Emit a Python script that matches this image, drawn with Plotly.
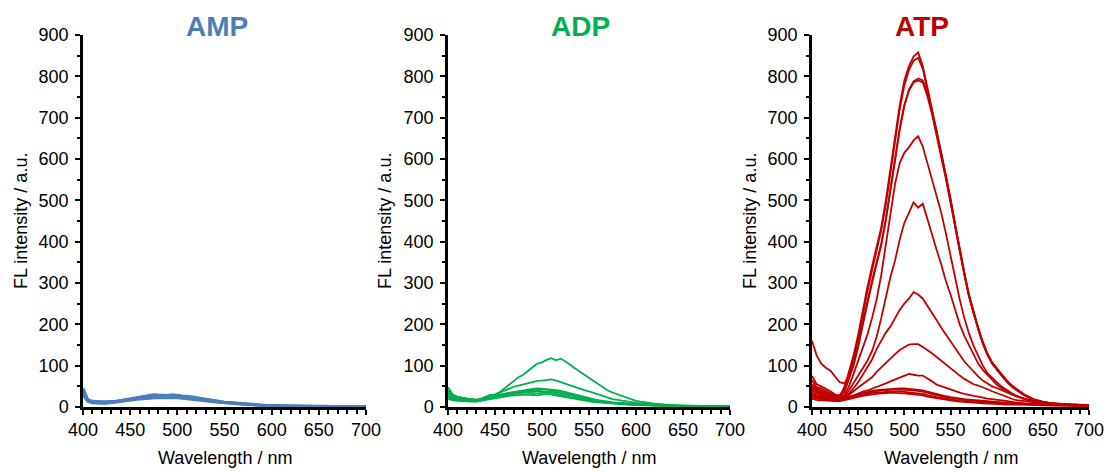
import plotly.graph_objects as go

# Wavelength grid (nm)
wavelength = [400, 405, 410, 415, 420, 425, 430, 435, 440, 445,
              450, 455, 460, 465, 470, 475, 480, 485, 490, 495,
              500, 505, 510, 515, 520, 525, 530, 535, 540, 545,
              550, 555, 560, 565, 570, 575, 580, 585, 590, 595,
              600, 605, 610, 615, 620,
              630, 640, 650, 660, 670, 680, 690, 700]

# ---------------- AMP spectra ----------------
amp_1 = [45, 18, 14, 13, 13, 13, 13, 14, 16, 18,
         20, 22, 24, 26, 28, 30, 29, 28, 28, 30,
         28, 27, 26, 25, 23, 21, 19, 17, 15, 13,
         12, 11, 10, 9, 8, 7, 6, 5, 5, 4,
         4, 3, 3, 3, 2,
         2, 2, 2, 1, 1, 1, 1, 1]
amp_2 = [38, 16, 12, 11, 11, 11, 12, 13, 15, 17,
         19, 21, 23, 24, 26, 27, 27, 26, 26, 27,
         26, 25, 24, 23, 21, 19, 17, 15, 14, 12,
         11, 10, 9, 8, 7, 6, 5, 5, 4, 4,
         3, 3, 3, 2, 2,
         2, 2, 1, 1, 1, 1, 1, 1]
amp_3 = [30, 14, 10, 9, 9, 9, 10, 11, 13, 15,
         17, 18, 19, 20, 22, 23, 23, 22, 22, 23,
         22, 21, 20, 19, 18, 16, 15, 13, 12, 10,
         9, 8, 7, 6, 6, 5, 5, 4, 4, 3,
         3, 3, 2, 2, 2,
         2, 1, 1, 1, 1, 1, 1, 1]
amp_4 = [42, 17, 13, 12, 12, 12, 12, 13, 15, 17,
         19, 21, 22, 24, 26, 28, 28, 27, 27, 28,
         27, 26, 25, 24, 22, 20, 18, 16, 14, 13,
         11, 10, 9, 8, 7, 6, 6, 5, 4, 4,
         3, 3, 3, 2, 2,
         2, 2, 1, 1, 1, 1, 1, 1]

# ---------------- ADP spectra ----------------
adp_1 = [35, 25, 22, 20, 19, 18, 17, 18, 22, 26,
         30, 36, 45, 55, 65, 72, 78, 86, 96, 105,
         108, 114, 118, 113, 117, 110, 101, 94, 86, 78,
         70, 62, 55, 47, 40, 35, 31, 27, 23, 19,
         15, 13, 11, 10, 8,
         6, 4, 3, 3, 2, 2, 2, 2]
adp_2 = [40, 28, 24, 22, 20, 18, 17, 18, 21, 25,
         30, 35, 40, 45, 49, 52, 55, 58, 61, 63,
         64, 66, 67, 64, 60, 56, 52, 48, 44, 41,
         38, 34, 30, 26, 22, 19, 17, 15, 13, 11,
         10, 9, 8, 7, 6,
         5, 4, 3, 3, 2, 2, 2, 2]
adp_3 = [48, 30, 25, 22, 20, 19, 18, 20, 26, 30,
         28, 30, 33, 35, 37, 39, 41, 43, 44, 45,
         44, 44, 43, 41, 39, 36, 33, 30, 27, 24,
         21, 18, 16, 14, 12, 11, 10, 9, 8, 7,
         7, 6, 6, 5, 5,
         4, 3, 3, 2, 2, 2, 2, 2]
adp_4 = [35, 24, 21, 19, 18, 17, 16, 18, 21, 24,
         27, 30, 32, 34, 36, 38, 39, 40, 41, 41,
         42, 42, 41, 39, 37, 34, 31, 28, 25, 22,
         20, 18, 16, 14, 12, 11, 10, 9, 8, 7,
         6, 6, 5, 5, 4,
         4, 3, 3, 2, 2, 2, 2, 2]
adp_5 = [30, 22, 19, 17, 16, 15, 15, 17, 20, 23,
         26, 28, 30, 32, 34, 35, 37, 38, 39, 39,
         38, 38, 37, 36, 34, 31, 28, 25, 23, 20,
         18, 16, 14, 12, 11, 10, 9, 8, 7, 6,
         6, 5, 5, 4, 4,
         3, 3, 2, 2, 2, 2, 2, 2]
adp_6 = [25, 19, 17, 16, 15, 14, 14, 16, 19, 22,
         24, 26, 28, 30, 31, 33, 34, 35, 34, 33,
         34, 35, 34, 32, 30, 27, 24, 22, 20, 18,
         16, 14, 12, 11, 10, 9, 8, 7, 6, 6,
         5, 5, 4, 4, 4,
         3, 3, 2, 2, 2, 2, 2, 1]
adp_7 = [20, 16, 15, 14, 14, 13, 13, 15, 18, 20,
         22, 24, 26, 27, 28, 29, 30, 30, 29, 28,
         30, 31, 30, 28, 26, 23, 21, 19, 17, 15,
         13, 12, 11, 10, 9, 8, 7, 6, 6, 5,
         5, 4, 4, 4, 3,
         3, 2, 2, 2, 2, 1, 1, 1]

# ---------------- ATP spectra ----------------
atp_1 = [45, 35, 30, 27, 24, 22, 25, 48, 85, 125,
         175, 235, 290, 340, 385, 435, 500, 575, 655, 730,
         790, 825, 848, 858, 825, 770, 720, 668, 615, 560,
         505, 440, 380, 322, 270, 228, 190, 155, 128, 108,
         93, 79, 66, 54, 45,
         29, 18, 12, 9, 7, 6, 5, 5]
atp_2 = [75, 55, 50, 45, 38, 30, 28, 42, 78, 115,
         165, 225, 280, 330, 378, 428, 490, 565, 645, 720,
         778, 815, 838, 845, 818, 768, 718, 665, 612, 556,
         500, 437, 378, 320, 268, 226, 188, 153, 126, 105,
         90, 76, 63, 52, 43,
         28, 17, 12, 9, 7, 6, 5, 5]
atp_3 = [160, 125, 105, 95, 88, 75, 60, 57, 75, 105,
         150, 205, 258, 305, 350, 395, 455, 525, 600, 675,
         730, 768, 788, 795, 790, 760, 715, 665, 612, 558,
         502, 440, 382, 325, 272, 230, 192, 158, 130, 108,
         93, 80, 67, 55, 46,
         30, 19, 13, 9, 7, 6, 5, 5]
atp_4 = [65, 48, 45, 40, 33, 27, 24, 35, 65, 100,
         145, 200, 250, 300, 345, 392, 452, 522, 598, 670,
         728, 765, 785, 790, 785, 752, 708, 658, 606, 552,
         496, 435, 376, 320, 268, 226, 188, 155, 127, 106,
         91, 78, 65, 53, 44,
         29, 18, 12, 9, 7, 6, 5, 5]
atp_5 = [55, 45, 40, 35, 30, 25, 22, 28, 50, 80,
         110, 140, 175, 215, 260, 320, 390, 465, 540, 590,
         615, 628, 645, 655, 630, 590, 550, 510, 470, 420,
         365, 310, 260, 215, 178, 148, 125, 100, 82, 70,
         60, 50, 42, 35, 29,
         20, 14, 10, 8, 6, 5, 5, 4]
atp_6 = [45, 38, 33, 30, 26, 22, 20, 25, 40, 58,
         75, 95, 112, 135, 170, 215, 265, 315, 355, 405,
         445, 470, 495, 482, 492, 455, 415, 380, 345, 305,
         272, 235, 200, 172, 150, 125, 105, 90, 78, 64,
         54, 46, 38, 32, 27,
         19, 13, 10, 8, 6, 5, 4, 4]
atp_7 = [40, 33, 30, 27, 23, 20, 19, 22, 32, 45,
         60, 78, 95, 115, 140, 162, 180, 195, 215, 235,
         250, 262, 278, 272, 262, 245, 230, 210, 192, 175,
         160, 142, 125, 110, 98, 85, 74, 64, 56, 50,
         46, 41, 36, 31, 27,
         20, 14, 10, 8, 6, 5, 4, 4]
atp_8 = [35, 28, 26, 24, 21, 18, 17, 20, 28, 38,
         47, 55, 62, 72, 85, 96, 108, 118, 128, 138,
         145, 151, 152, 152, 145, 138, 130, 121, 112, 102,
         92, 84, 76, 68, 61, 55, 52, 48, 43, 38,
         34, 30, 26, 21, 17,
         14, 11, 9, 7, 6, 5, 4, 4]
atp_9 = [30, 25, 23, 21, 19, 17, 16, 18, 23, 28,
         33, 37, 40, 44, 48, 52, 57, 62, 67, 72,
         76, 80, 78, 76, 76, 70, 62, 54, 50, 46,
         42, 38, 35, 32, 29, 27, 25, 22, 20, 19,
         18, 17, 15, 13, 11,
         9, 7, 6, 5, 5, 4, 4, 4]
atp_10 = [50, 40, 36, 32, 28, 24, 21, 22, 25, 28,
          31, 34, 37, 39, 41, 42, 43, 44, 45, 45,
          45, 44, 43, 42, 40, 37, 34, 31, 28, 26,
          24, 22, 21, 19, 18, 17, 16, 15, 14, 13,
          12, 11, 10, 10, 9,
          8, 7, 6, 5, 5, 4, 4, 4]
atp_11 = [30, 25, 22, 20, 18, 17, 17, 19, 23, 27,
          30, 33, 35, 37, 39, 40, 41, 42, 42, 42,
          42, 41, 40, 39, 37, 34, 31, 28, 26, 24,
          22, 20, 19, 17, 16, 15, 14, 13, 12, 11,
          10, 10, 9, 9, 8,
          7, 6, 5, 5, 4, 4, 4, 3]
atp_12 = [25, 21, 19, 18, 17, 16, 16, 18, 21, 24,
          27, 30, 32, 34, 35, 36, 37, 38, 38, 38,
          37, 36, 35, 34, 32, 29, 26, 24, 22, 20,
          18, 17, 15, 14, 13, 12, 11, 10, 10, 9,
          9, 8, 8, 7, 7,
          6, 5, 5, 4, 4, 3, 3, 3]
atp_13 = [20, 17, 16, 15, 15, 14, 14, 16, 19, 22,
          25, 27, 29, 31, 32, 33, 34, 34, 34, 34,
          33, 32, 31, 30, 28, 25, 23, 21, 19, 17,
          16, 14, 13, 12, 11, 10, 9, 9, 8, 8,
          7, 7, 6, 6, 6,
          5, 5, 4, 4, 3, 3, 3, 3]

panel_titles = ["AMP", "ADP", "ATP"]
x_tick_vals = [400, 450, 500, 550, 600, 650, 700]
y_tick_vals = [0, 100, 200, 300, 400, 500, 600, 700, 800, 900]

panels = [
    ([amp_1, amp_2, amp_3, amp_4], "#4A7EBB", 2.8),
    ([adp_1, adp_2, adp_3, adp_4, adp_5, adp_6, adp_7], "#00B050", 1.8),
    ([atp_1, atp_2, atp_3, atp_4, atp_5, atp_6, atp_7, atp_8, atp_9,
      atp_10, atp_11, atp_12, atp_13], "#C00000", 1.8),
]

W, H = 1111, 472
# plot areas in pixels: (left, right)
px_x = [(83, 366), (448, 730), (812, 1089)]
px_top, px_bot = 35, 407
title_x = [217, 580, 922]
ytitle_x = [21, 385, 750]

FONT = "Liberation Sans, Arial, sans-serif"

fig = go.Figure()
layout = dict(
    width=W, height=H, margin=dict(l=0, r=0, t=0, b=0, pad=0, autoexpand=False),
    paper_bgcolor="white", plot_bgcolor="white",
    showlegend=False, font=dict(family=FONT, color="black"),
    annotations=[],
)

for i, (curves, color, lw) in enumerate(panels):
    ax = "" if i == 0 else str(i + 1)
    for c in curves:
        fig.add_trace(go.Scatter(
            x=wavelength, y=c, mode="lines",
            line=dict(color=color, width=lw),
            xaxis="x" + ax, yaxis="y" + ax, hoverinfo="skip"))
    l, r = px_x[i]
    layout["xaxis" + ax] = dict(
        domain=[l / W, r / W], anchor="y" + ax, range=[400, 700], automargin=False,
        tickvals=x_tick_vals, ticks="outside", ticklen=5, tickwidth=1.8,
        tickcolor="black", showline=True, linewidth=2.5, linecolor="black",
        showgrid=False, zeroline=False, tickfont=dict(size=18, family=FONT, color="black"),
        minor=dict(dtick=10, ticks="outside", ticklen=4, tickwidth=1.8, tickcolor="black", showgrid=False),
        fixedrange=True,
    )
    layout["yaxis" + ax] = dict(
        domain=[(H - px_bot) / H, (H - px_top) / H], anchor="x" + ax, range=[0, 900], automargin=False,
        tickvals=y_tick_vals, ticks="outside", ticklen=5, tickwidth=1.8,
        tickcolor="black", showline=True, linewidth=2.5, linecolor="black",
        showgrid=False, zeroline=False, tickfont=dict(size=18, family=FONT, color="black"),
        ticklabelstandoff=3,
        minor=dict(dtick=50, ticks="outside", ticklen=3, tickwidth=1.8, tickcolor="black", showgrid=False),
        fixedrange=True,
    )
    layout["annotations"].append(dict(
        text="<b>%s</b>" % panel_titles[i], x=title_x[i] / W, y=1 - 27 / H,
        xref="paper", yref="paper", xanchor="center", yanchor="middle",
        showarrow=False, font=dict(size=28, color=color, family=FONT)))
    layout["annotations"].append(dict(
        text="FL intensity / a.u.", x=ytitle_x[i] / W, y=1 - 221 / H,
        xref="paper", yref="paper", xanchor="center", yanchor="middle",
        textangle=-90, showarrow=False, font=dict(size=18, color="black", family=FONT)))
    layout["annotations"].append(dict(
        text="Wavelength / nm", x=(l + r) / 2 / W, y=1 - 458 / H,
        xref="paper", yref="paper", xanchor="center", yanchor="middle",
        showarrow=False, font=dict(size=18, color="black", family=FONT)))

fig.update_layout(**layout)
fig.write_html("out.html")
